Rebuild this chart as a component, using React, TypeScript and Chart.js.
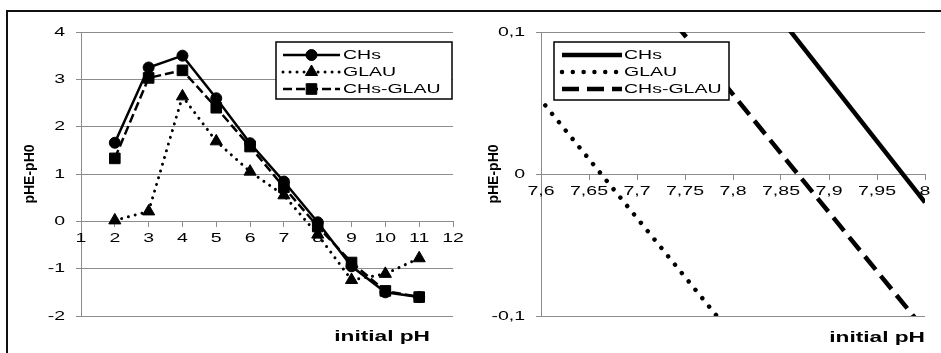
import React, { useEffect, useRef } from 'react';
import { Chart, registerables } from 'chart.js';
Chart.register(...registerables);

// ---------- data ----------
const PH = [2, 3, 4, 5, 6, 7, 8, 9, 10, 11];
const CHS = [1.66, 3.25, 3.5, 2.6, 1.65, 0.84, -0.02, -0.95, -1.5, -1.6];
const GLAU = [0.02, 0.21, 2.64, 1.69, 1.05, 0.55, -0.28, -1.24, -1.11, -0.78];
const CHS_GLAU = [1.33, 3.03, 3.19, 2.4, 1.58, 0.72, -0.11, -0.87, -1.47, -1.6];
const SERIES_LABELS = ['CHs', 'GLAU', 'CHs-GLAU'];

const LEFT_X_TICKS = [1, 2, 3, 4, 5, 6, 7, 8, 9, 10, 11, 12];
const LEFT_Y_TICKS = [-2, -1, 0, 1, 2, 3, 4];
const RIGHT_X_TICKS = [7.6, 7.65, 7.7, 7.75, 7.8, 7.85, 7.9, 7.95, 8];
const RIGHT_Y_TICKS = [-0.1, 0, 0.1];

const X_TITLE = 'initial pH';
const Y_TITLE = 'pHE-pH0';

// ---------- styles ----------
const GRID = '#8c8c8c';
const FONT_FAMILY = "'Liberation Sans', Arial, sans-serif";
const TICK_FONT = `13px ${FONT_FAMILY}`;
const TITLE_FONT = `bold 14px ${FONT_FAMILY}`;
const TEXT_SX = 1.5;
const TITLE_SX = 1.62;

type LineStyle = { width: number; dash: number[]; cap: CanvasLineCap; marker: string | null; radius: number };

const LEFT_STYLES: LineStyle[] = [
  { width: 2.5, dash: [], cap: 'butt', marker: 'circle', radius: 5.5 },
  { width: 3, dash: [0.01, 7], cap: 'round', marker: 'triangle', radius: 7 },
  { width: 2.5, dash: [9, 4], cap: 'butt', marker: 'rect', radius: 7.5 },
];
const RIGHT_STYLES: LineStyle[] = [
  { width: 4.5, dash: [], cap: 'butt', marker: null, radius: 0 },
  { width: 4.5, dash: [0.01, 10.8], cap: 'round', marker: null, radius: 0 },
  { width: 4.5, dash: [17, 8], cap: 'butt', marker: null, radius: 0 },
];

const fmt = (v: number) => String(Math.round(v * 1000) / 1000).replace('.', ',');

function stretchText(ctx: CanvasRenderingContext2D, text: string, x: number, y: number, sx: number, align: CanvasTextAlign, font: string) {
  ctx.save();
  ctx.font = font;
  ctx.fillStyle = '#000';
  ctx.textAlign = align;
  ctx.textBaseline = 'middle';
  ctx.translate(x, y);
  ctx.scale(sx, 1);
  ctx.fillText(text, 0, 0);
  ctx.restore();
}

function drawMarker(ctx: CanvasRenderingContext2D, kind: string, x: number, y: number, r: number) {
  ctx.save();
  ctx.setLineDash([]);
  ctx.fillStyle = '#000';
  ctx.strokeStyle = '#000';
  ctx.lineWidth = 1;
  ctx.beginPath();
  if (kind === 'circle') ctx.arc(x, y, r, 0, Math.PI * 2);
  else if (kind === 'triangle') {
    ctx.moveTo(x, y - r);
    ctx.lineTo(x + 0.866 * r, y + 0.5 * r);
    ctx.lineTo(x - 0.866 * r, y + 0.5 * r);
    ctx.closePath();
  } else if (kind === 'rect') {
    const h = r / Math.SQRT2;
    ctx.rect(x - h, y - h, 2 * h, 2 * h);
  }
  ctx.fill();
  ctx.stroke();
  ctx.restore();
}

type PluginCfg = {
  styles: LineStyle[];
  yTitleOffset: number; // distance left of chartArea.left for y title centre
  xTitleInset: number; // distance left of chartArea.right for x title right edge
  xTitleDy: number;
  box: { dx: number; dy: number; w: number; h: number };
  sample: { x1: number; x2: number; text: number };
};

function makeTextPlugin(cfg: PluginCfg) {
  return {
    id: 'customText',
    beforeDatasetsDraw(chart: any) {
      const ctx = chart.ctx as CanvasRenderingContext2D;
      const { x, y } = chart.scales;
      const ca = chart.chartArea;
      y.ticks.forEach((t: any) => {
        stretchText(ctx, fmt(t.value), ca.left - 16, y.getPixelForValue(t.value), TEXT_SX, 'right', TICK_FONT);
      });
      const y0 = y.getPixelForValue(0);
      x.ticks.forEach((t: any) => {
        stretchText(ctx, fmt(t.value), x.getPixelForValue(t.value), y0 + 17.5, TEXT_SX, 'center', TICK_FONT);
      });
    },
    afterDraw(chart: any) {
      const ctx = chart.ctx as CanvasRenderingContext2D;
      const ca = chart.chartArea;
      // y title
      ctx.save();
      ctx.font = TITLE_FONT;
      ctx.fillStyle = '#000';
      ctx.textAlign = 'center';
      ctx.textBaseline = 'middle';
      ctx.translate(ca.left - cfg.yTitleOffset, (ca.top + ca.bottom) / 2);
      ctx.rotate(-Math.PI / 2);
      ctx.fillText(Y_TITLE, 0, 0);
      ctx.restore();
      // x title
      stretchText(ctx, X_TITLE, ca.right - cfg.xTitleInset, ca.bottom + cfg.xTitleDy, TITLE_SX, 'right', TITLE_FONT);
      // legend
      const bx = ca.left + cfg.box.dx;
      const by = ca.top + cfg.box.dy;
      ctx.save();
      ctx.fillStyle = '#fff';
      ctx.fillRect(bx, by, cfg.box.w, cfg.box.h);
      ctx.strokeStyle = '#000';
      ctx.lineWidth = 1.5;
      ctx.strokeRect(bx, by, cfg.box.w, cfg.box.h);
      ctx.restore();
      SERIES_LABELS.forEach((label, i) => {
        const st = cfg.styles[i];
        const yy = by + 13 + i * 17;
        const x1 = bx + cfg.sample.x1;
        const x2 = bx + cfg.sample.x2;
        ctx.save();
        ctx.strokeStyle = '#000';
        ctx.lineWidth = st.width;
        ctx.lineCap = st.cap;
        ctx.setLineDash(st.dash);
        ctx.beginPath();
        ctx.moveTo(x1, yy);
        ctx.lineTo(x2, yy);
        ctx.stroke();
        ctx.restore();
        if (st.marker) drawMarker(ctx, st.marker, (x1 + x2) / 2, yy, st.radius);
        stretchText(ctx, label, bx + cfg.sample.text, yy, TEXT_SX, 'left', TICK_FONT);
      });
    },
  };
}

function buildDatasets(styles: LineStyle[]) {
  const series = [CHS, GLAU, CHS_GLAU];
  const orders = [3, 2, 1];
  return series.map((vals, i) => {
    const st = styles[i];
    return {
      label: SERIES_LABELS[i],
      data: PH.map((x, j) => ({ x, y: vals[j] })),
      borderColor: '#000',
      backgroundColor: '#000',
      borderWidth: st.width,
      borderDash: st.dash,
      borderCapStyle: st.cap,
      pointStyle: st.marker || 'circle',
      pointRadius: st.marker ? st.radius : 0,
      pointBorderWidth: 1,
      pointBackgroundColor: '#000',
      pointBorderColor: '#000',
      tension: 0,
      order: orders[i],
    };
  });
}

function buildConfig(opts: {
  styles: LineStyle[];
  xMin: number; xMax: number; yMin: number; yMax: number;
  xTicks: number[]; yTicks: number[];
  axisWidth: number;
  padding: { top: number; right: number; bottom: number; left: number };
  plugin: any;
}) {
  return {
    type: 'line' as const,
    data: { datasets: buildDatasets(opts.styles) },
    options: {
      animation: false as const,
      responsive: false,
      events: [],
      layout: { padding: opts.padding },
      plugins: { legend: { display: false }, tooltip: { enabled: false }, title: { display: false } },
      scales: {
        x: {
          type: 'linear' as const,
          min: opts.xMin,
          max: opts.xMax,
          position: { y: 0 },
          afterBuildTicks: (s: any) => { s.ticks = opts.xTicks.map((v) => ({ value: v })); },
          ticks: { display: false },
          grid: { drawOnChartArea: false, drawTicks: true, tickLength: 5, color: GRID, lineWidth: 1 },
          border: { display: true, color: GRID, width: 1 },
        },
        y: {
          type: 'linear' as const,
          min: opts.yMin,
          max: opts.yMax,
          afterBuildTicks: (s: any) => { s.ticks = opts.yTicks.map((v) => ({ value: v })); },
          afterFit: (s: any) => { s.width = opts.axisWidth; },
          ticks: { display: false },
          grid: { drawTicks: true, tickLength: 5, color: GRID, lineWidth: 1 },
          border: { display: true, color: GRID, width: 1 },
        },
      },
    },
    plugins: [opts.plugin],
  };
}

export default function App() {
  const leftRef = useRef<HTMLCanvasElement>(null);
  const rightRef = useRef<HTMLCanvasElement>(null);

  useEffect(() => {
    const left = new Chart(leftRef.current as HTMLCanvasElement, buildConfig({
      styles: LEFT_STYLES,
      xMin: 1, xMax: 12, yMin: -2, yMax: 4,
      xTicks: LEFT_X_TICKS, yTicks: LEFT_Y_TICKS,
      axisWidth: 73,
      padding: { top: 20, right: 17, bottom: 37, left: 0 },
      plugin: makeTextPlugin({
        styles: LEFT_STYLES,
        yTitleOffset: 51,
        xTitleInset: 23,
        xTitleDy: 21,
        box: { dx: 195, dy: 10, w: 176, h: 57 },
        sample: { x1: 7, x2: 64, text: 67 },
      }),
    }) as any);
    const right = new Chart(rightRef.current as HTMLCanvasElement, buildConfig({
      styles: RIGHT_STYLES,
      xMin: 7.6, xMax: 8, yMin: -0.1, yMax: 0.1,
      xTicks: RIGHT_X_TICKS, yTicks: RIGHT_Y_TICKS,
      axisWidth: 71,
      padding: { top: 20, right: 16, bottom: 37, left: 0 },
      plugin: makeTextPlugin({
        styles: RIGHT_STYLES,
        yTitleOffset: 47,
        xTitleInset: 0,
        xTitleDy: 22,
        box: { dx: 13, dy: 10, w: 175, h: 58 },
        sample: { x1: 8, x2: 68, text: 70 },
      }),
    }) as any);
    return () => { left.destroy(); right.destroy(); };
  }, []);

  return (
    <div style={{ position: 'fixed', left: 0, top: 0, width: 941, height: 353, overflow: 'hidden', background: '#fff' }}>
      <div style={{ position: 'absolute', left: 6, top: 10, width: 1000, height: 400, borderLeft: '2px solid #111', borderTop: '2px solid #111' }} />
      <canvas ref={leftRef} width={462} height={341} style={{ position: 'absolute', left: 8, top: 12 }} />
      <canvas ref={rightRef} width={471} height={341} style={{ position: 'absolute', left: 470, top: 12 }} />
    </div>
  );
}
